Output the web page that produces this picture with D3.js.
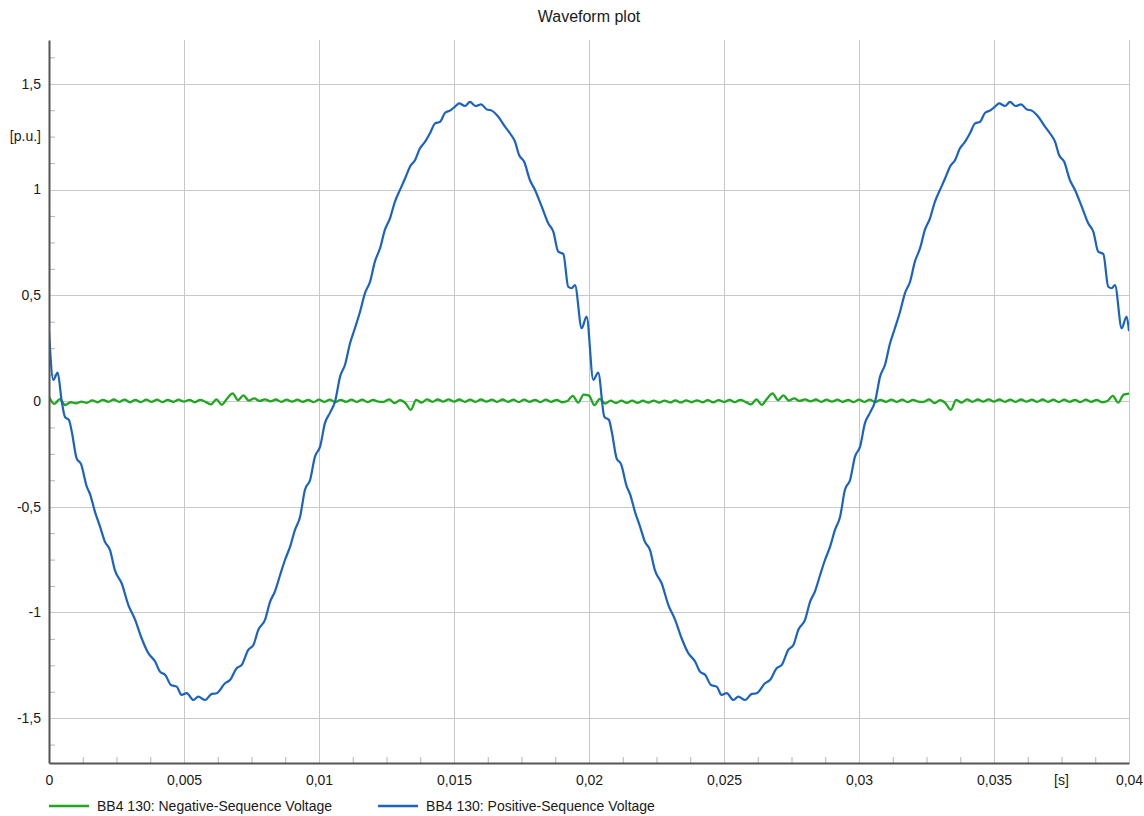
<!DOCTYPE html>
<html>
<head>
<meta charset="utf-8">
<script src="https://cdn.jsdelivr.net/npm/d3@7"></script>
<style>
  body { margin: 0; background: #fff; }
  text { font-family: "Liberation Sans", Arial, sans-serif; fill: #1a1a1a; }
</style>
</head>
<body>
<svg id="chart" width="1144" height="816"></svg>
<script>
// chart data
const chartTitle = "Waveform plot"
const seriesNames = ["BB4 130: Negative-Sequence Voltage", "BB4 130: Positive-Sequence Voltage"]
const seriesColors = ["#1fa81f", "#1a62c4"]
const xTicks = [0, 0.005, 0.01, 0.015, 0.02, 0.025, 0.03, 0.035, 0.04]
const yTicks = [-1.5, -1, -0.5, 0, 0.5, 1, 1.5]
const xUnit = { label: "[s]", at: 0.0375 }
const yUnit = { label: "[p.u.]", at: 1.25 }

// negative sequence, sampled every 0.2 ms
const negStep = 0.0002
const negativeSeq = [
  0.02, -0.014, 0.009, -0.019, -0.006, -0.011, -0.003, -0.009, 0.003, -0.006,
  0.005, -0.004, 0.007, -0.004, 0.006, -0.006, 0.005, -0.005, 0.006, -0.004,
  0.006, -0.005, 0.005, -0.004, 0.006, -0.003, 0.005, -0.006, 0.005, -0.004,
  -0.016, 0.008, -0.018, 0.012, 0.036, 0.004, 0.026, 0.002, 0.012, 0.0,
  0.008, -0.002, 0.007, -0.004, 0.006, -0.003, 0.006, -0.004, 0.005, -0.005,
  0.006, -0.004, 0.006, -0.005, 0.005, -0.004, 0.006, -0.004, 0.006, -0.005,
  0.005, -0.003, -0.004, 0.008, -0.01, 0.004, -0.01, -0.042, 0.005, -0.008,
  0.008, -0.004, 0.007, -0.003, 0.008, -0.003, 0.007, -0.004, 0.006, -0.004,
  0.007, -0.003, 0.006, -0.004, 0.007, -0.004, 0.006, -0.005, 0.006, -0.004,
  0.005, -0.005, 0.006, -0.004, 0.005, -0.006, 0.0, 0.024, -0.008, 0.03,
  0.025, -0.02, 0.01, -0.012, 0.002, -0.01, 0.002, -0.009, 0.002, -0.009,
  0.001, -0.008, 0.002, -0.008, 0.002, -0.007, 0.003, -0.007, 0.003, -0.006,
  0.003, -0.006, 0.004, -0.006, 0.004, -0.005, 0.005, -0.005, 0.005, -0.004,
  -0.016, 0.008, -0.018, 0.012, 0.036, 0.004, 0.026, 0.002, 0.012, 0.0,
  0.008, -0.002, 0.007, -0.004, 0.006, -0.003, 0.006, -0.004, 0.005, -0.005,
  0.006, -0.004, 0.006, -0.005, 0.005, -0.004, 0.006, -0.004, 0.006, -0.005,
  0.005, -0.003, -0.004, 0.008, -0.01, 0.004, -0.01, -0.042, 0.005, -0.008,
  0.008, -0.004, 0.007, -0.003, 0.008, -0.003, 0.007, -0.004, 0.006, -0.004,
  0.007, -0.003, 0.006, -0.004, 0.007, -0.004, 0.006, -0.005, 0.006, -0.004,
  0.005, -0.005, 0.006, -0.004, 0.005, -0.006, 0.0, 0.024, -0.008, 0.03,
  0.035
]

// positive sequence, [time s, p.u.] at the bumps and dips of the trace
const positiveSeq = [
  [0, 0.33], [0.00016, 0.10], [0.00032, 0.134], [0.00047, 0.0], [0.00059, -0.075],
  [0.00074, -0.09], [0.00085, -0.15], [0.00102, -0.27], [0.00119, -0.30], [0.0014, -0.405],
  [0.00152, -0.44], [0.0017, -0.523], [0.00189, -0.594], [0.00207, -0.665], [0.00226, -0.705],
  [0.00244, -0.80], [0.00269, -0.862], [0.00294, -0.965], [0.00319, -1.035], [0.00343, -1.122],
  [0.00368, -1.193], [0.00393, -1.232], [0.00411, -1.28], [0.0043, -1.295], [0.00452, -1.343],
  [0.00473, -1.351], [0.00491, -1.39], [0.0051, -1.382], [0.00535, -1.414], [0.00553, -1.398],
  [0.00578, -1.414], [0.00603, -1.385], [0.00621, -1.382], [0.00652, -1.335], [0.0067, -1.32],
  [0.00695, -1.264], [0.00714, -1.248], [0.00738, -1.177], [0.00757, -1.154], [0.00775, -1.083],
  [0.008, -1.035], [0.00819, -0.949], [0.00837, -0.90], [0.00856, -0.823], [0.00874, -0.752],
  [0.00893, -0.689], [0.00911, -0.61], [0.0093, -0.547], [0.00948, -0.42], [0.00967, -0.374],
  [0.00985, -0.263], [0.01004, -0.216], [0.01022, -0.105], [0.01041, -0.055], [0.0106, 0.0],
  [0.01078, 0.115], [0.01096, 0.17], [0.01115, 0.273], [0.01133, 0.344], [0.01152, 0.422],
  [0.0117, 0.509], [0.01189, 0.564], [0.01207, 0.659], [0.01226, 0.722], [0.01244, 0.809],
  [0.01263, 0.864], [0.01281, 0.942], [0.013, 0.998], [0.01319, 1.053], [0.01337, 1.108],
  [0.01356, 1.14], [0.01374, 1.195], [0.01393, 1.226], [0.01411, 1.266], [0.0143, 1.313],
  [0.01448, 1.32], [0.01467, 1.363], [0.01485, 1.373], [0.01504, 1.392], [0.01519, 1.407],
  [0.01541, 1.395], [0.01559, 1.414], [0.0158, 1.395], [0.016, 1.403], [0.01621, 1.379],
  [0.0164, 1.373], [0.01664, 1.344], [0.01689, 1.297], [0.01707, 1.266], [0.01726, 1.226],
  [0.01741, 1.163], [0.0176, 1.131], [0.01781, 1.045], [0.018, 0.998], [0.01825, 0.919],
  [0.01849, 0.84], [0.01868, 0.80], [0.01886, 0.706], [0.01905, 0.695], [0.01923, 0.54],
  [0.01936, 0.533], [0.01948, 0.548], [0.01973, 0.344], [0.01991, 0.399], [0.02016, 0.10],
  [0.02034, 0.134], [0.02057, -0.075],
  [0.02074, -0.09], [0.02085, -0.15], [0.02102, -0.27], [0.02119, -0.30], [0.0214, -0.405],
  [0.02152, -0.44], [0.0217, -0.523], [0.02189, -0.594], [0.02207, -0.665], [0.02226, -0.705],
  [0.02244, -0.80], [0.02269, -0.862], [0.02294, -0.965], [0.02319, -1.035], [0.02343, -1.122],
  [0.02368, -1.193], [0.02393, -1.232], [0.02411, -1.28], [0.0243, -1.295], [0.02452, -1.343],
  [0.02473, -1.351], [0.02491, -1.39], [0.0251, -1.382], [0.02535, -1.414], [0.02553, -1.398],
  [0.02578, -1.414], [0.02603, -1.385], [0.02621, -1.382], [0.02652, -1.335], [0.0267, -1.32],
  [0.02695, -1.264], [0.02714, -1.248], [0.02738, -1.177], [0.02757, -1.154], [0.02775, -1.083],
  [0.028, -1.035], [0.02819, -0.949], [0.02837, -0.90], [0.02856, -0.823], [0.02874, -0.752],
  [0.02893, -0.689], [0.02911, -0.61], [0.0293, -0.547], [0.02948, -0.42], [0.02967, -0.374],
  [0.02985, -0.263], [0.03004, -0.216], [0.03022, -0.105], [0.03041, -0.055], [0.0306, 0.0],
  [0.03078, 0.115], [0.03096, 0.17], [0.03115, 0.273], [0.03133, 0.344], [0.03152, 0.422],
  [0.0317, 0.509], [0.03189, 0.564], [0.03207, 0.659], [0.03226, 0.722], [0.03244, 0.809],
  [0.03263, 0.864], [0.03281, 0.942], [0.033, 0.998], [0.03319, 1.053], [0.03337, 1.108],
  [0.03356, 1.14], [0.03374, 1.195], [0.03393, 1.226], [0.03411, 1.266], [0.0343, 1.313],
  [0.03448, 1.32], [0.03467, 1.363], [0.03485, 1.373], [0.03504, 1.392], [0.03519, 1.407],
  [0.03541, 1.395], [0.03559, 1.414], [0.0358, 1.395], [0.036, 1.403], [0.03621, 1.379],
  [0.0364, 1.373], [0.03664, 1.344], [0.03689, 1.297], [0.03707, 1.266], [0.03726, 1.226],
  [0.03741, 1.163], [0.0376, 1.131], [0.03781, 1.045], [0.038, 0.998], [0.03825, 0.919],
  [0.03849, 0.84], [0.03868, 0.80], [0.03886, 0.706], [0.03905, 0.695], [0.03923, 0.54],
  [0.03936, 0.533], [0.03948, 0.548], [0.03973, 0.344], [0.03991, 0.399], [0.04, 0.33]
]

const width = 1144
const height = 816
const plot = { left: 49, right: 1129, top: 40, bottom: 763 }

const svg = d3.select("#chart")

const x = d3.scaleLinear()
    .domain([0, 0.04])
    .range([plot.left, plot.right])

const y = d3.scaleLinear()
    .domain([-1.712, 1.707])
    .range([plot.bottom, plot.top])

// decimal comma, plain hyphen minus
const locale = d3.formatLocale({ decimal: ",", thousands: ".", grouping: [3], currency: ["", ""], minus: "-" })
const fmt = locale.format("~g")

svg.append("rect")
    .attr("width", width)
    .attr("height", height)
    .attr("fill", "#fff")

svg.append("text")
    .attr("x", (plot.left + plot.right) / 2)
    .attr("y", 22)
    .attr("text-anchor", "middle")
    .style("font-size", "16px")
    .text(chartTitle)

// grid
const grid = svg.append("g").attr("stroke", "#c8c8c8").attr("stroke-width", 1)

grid.selectAll(".vgrid")
    .data(xTicks.filter(d => d > 0))
    .enter().append("line")
    .attr("class", "vgrid")
    .attr("x1", d => Math.round(x(d)) + 0.5)
    .attr("x2", d => Math.round(x(d)) + 0.5)
    .attr("y1", plot.top)
    .attr("y2", plot.bottom)

grid.selectAll(".hgrid")
    .data(yTicks)
    .enter().append("line")
    .attr("class", "hgrid")
    .attr("x1", plot.left)
    .attr("x2", plot.right)
    .attr("y1", d => Math.round(y(d)) + 0.5)
    .attr("y2", d => Math.round(y(d)) + 0.5)

// minor ticks inside the plot
const yMinor = d3.range(-13, 14).map(k => k * 0.125).filter(d => !yTicks.includes(d))
const xMinor = d3.range(1, 32).map(k => k * 0.00125).filter(d => Math.abs(d / 0.005 - Math.round(d / 0.005)) > 1e-6)

svg.append("g")
    .attr("transform", `translate(${plot.left},0)`)
    .call(d3.axisRight(y).tickValues(yMinor).tickSize(6).tickFormat(""))
    .call(g => g.select(".domain").remove())
    .call(g => g.selectAll("line").attr("stroke", "#b4b4b4"))

svg.append("g")
    .attr("transform", `translate(0,${plot.bottom})`)
    .call(d3.axisTop(x).tickValues(xMinor).tickSize(6).tickFormat(""))
    .call(g => g.select(".domain").remove())
    .call(g => g.selectAll("line").attr("stroke", "#b4b4b4"))

// series
svg.append("clipPath")
    .attr("id", "plot-clip")
    .append("rect")
    .attr("x", plot.left)
    .attr("y", plot.top)
    .attr("width", plot.right - plot.left)
    .attr("height", plot.bottom - plot.top)

const line = d3.line()
    .x(d => x(d[0]))
    .y(d => y(d[1]))
    .curve(d3.curveMonotoneX)

const negData = negativeSeq.map((v, i) => [i * negStep, v])

const lines = svg.append("g").attr("clip-path", "url(#plot-clip)")

lines.append("path")
    .datum(negData)
    .attr("fill", "none")
    .attr("stroke", seriesColors[0])
    .attr("stroke-width", 2.3)
    .attr("d", line)

lines.append("path")
    .datum(positiveSeq)
    .attr("fill", "none")
    .attr("stroke", seriesColors[1])
    .attr("stroke-width", 2.2)
    .attr("stroke-linejoin", "round")
    .attr("d", line)

// axes
const yAxis = svg.append("g")
    .attr("transform", `translate(${plot.left},0)`)
    .call(d3.axisLeft(y).tickValues(yTicks).tickSize(0).tickSizeOuter(0).tickPadding(8).tickFormat(fmt))

yAxis.select(".domain").attr("stroke", "#555").attr("stroke-width", 2)
yAxis.selectAll("text").style("font-size", "14px").attr("fill", "#1a1a1a")

yAxis.append("text")
    .attr("x", -8)
    .attr("y", y(yUnit.at))
    .attr("dy", "0.32em")
    .attr("text-anchor", "end")
    .style("font-size", "14px")
    .text(yUnit.label)

const xAxis = svg.append("g")
    .attr("transform", `translate(0,${plot.bottom})`)
    .call(d3.axisBottom(x).tickValues(xTicks).tickSize(0).tickSizeOuter(0).tickPadding(12).tickFormat(fmt))

xAxis.select(".domain").attr("stroke", "#555").attr("stroke-width", 2)
xAxis.selectAll("text").style("font-size", "14px").attr("fill", "#1a1a1a")

xAxis.append("text")
    .attr("x", x(xUnit.at))
    .attr("y", 12)
    .attr("dy", "0.71em")
    .attr("text-anchor", "middle")
    .style("font-size", "14px")
    .text(xUnit.label)

// legend
const legend = svg.append("g").attr("transform", "translate(49,806)")
let lx = 0
seriesNames.forEach((name, i) => {
    const item = legend.append("g").attr("transform", `translate(${lx},0)`)
    item.append("line")
        .attr("x1", 0)
        .attr("x2", 40)
        .attr("stroke", seriesColors[i])
        .attr("stroke-width", 2.5)
    const t = item.append("text")
        .attr("x", 48)
        .attr("dy", "0.35em")
        .style("font-size", "14px")
        .text(name)
    lx += 48 + t.node().getComputedTextLength() + 46
})
</script>
</body>
</html>
